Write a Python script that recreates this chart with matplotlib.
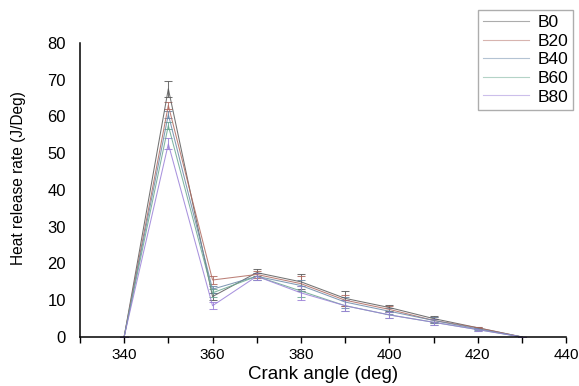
import matplotlib
matplotlib.use("Agg")
import matplotlib.pyplot as plt

plt.rcParams['font.family'] = ['Liberation Sans', 'DejaVu Sans']

crank = [340, 350, 360, 370, 380, 390, 400, 410, 420, 430]
labels = ["B0", "B20", "B40", "B60", "B80"]
B0 = [0, 67.5, 11.0, 17.5, 15.0, 10.5, 8.0, 5.0, 2.5, 0]
B20 = [0, 63.0, 15.5, 17.0, 14.5, 10.0, 7.5, 4.5, 2.5, 0]
B40 = [0, 60.5, 13.0, 16.5, 14.0, 9.5, 7.0, 4.5, 2.2, 0]
B60 = [0, 57.5, 12.0, 16.5, 12.5, 8.5, 6.0, 4.0, 2.0, 0]
B80 = [0, 52.5, 8.5, 16.5, 12.0, 8.5, 6.0, 4.0, 2.0, 0]
err_B0 = [0, 2.2, 1.0, 1.0, 2.0, 2.0, 0.8, 0.8, 0.3, 0]
err_B20 = [0, 1.0, 1.0, 1.0, 2.0, 1.5, 0.8, 0.8, 0.3, 0]
err_B40 = [0, 1.0, 1.0, 1.0, 1.5, 1.5, 0.8, 0.8, 0.3, 0]
err_B60 = [0, 1.0, 1.0, 1.0, 1.5, 1.5, 0.8, 0.8, 0.3, 0]
err_B80 = [0, 1.5, 1.0, 1.0, 2.0, 1.5, 0.8, 0.8, 0.3, 0]

series = [B0, B20, B40, B60, B80]
errors = [err_B0, err_B20, err_B40, err_B60, err_B80]
colors = ["#5a5a5a", "#b06a60", "#6a88a8", "#6aa890", "#9a80d8"]

fig = plt.figure(figsize=(5.79, 3.86), dpi=100)
ax = fig.add_axes([0.138, 0.127, 0.840, 0.762])

for lab, vals, err, col in zip(labels, series, errors, colors):
    ax.errorbar(crank, vals, yerr=err, color=col, lw=0.75, elinewidth=0.75,
                capsize=3, capthick=0.75, label=lab, alpha=0.85)

ax.set_xlim(330, 440)
ax.set_ylim(0, 80)
ax.set_xticks(range(340, 441, 20))
ax.set_xticks(range(330, 441, 10), minor=True)
ax.set_yticks(range(0, 81, 10))
ax.tick_params(axis='x', which='both', direction='out', length=4, width=1,
               labelsize=11, pad=4)
ax.tick_params(axis='y', length=0, labelsize=12, pad=10)
for s in ("top", "right"):
    ax.spines[s].set_visible(False)
for s in ("left", "bottom"):
    ax.spines[s].set_linewidth(1.1)

ax.set_xlabel("Crank angle (deg)", fontsize=13.5, labelpad=3)
ax.set_ylabel("Heat release rate (J/Deg)", fontsize=11.2)
ax.yaxis.set_label_coords(-0.11, 0.54)

leg_handles = [plt.Line2D([], [], color=c, lw=0.8, alpha=0.5) for c in colors]
fig.legend(leg_handles, labels, loc="upper right", bbox_to_anchor=(0.99, 0.975),
           fontsize=12.5, frameon=True, fancybox=False, edgecolor="#999999",
           handlelength=2.6, handletextpad=0.5, labelspacing=0.2,
           borderpad=0.3, borderaxespad=0)

fig.savefig("out.png", dpi=100)
